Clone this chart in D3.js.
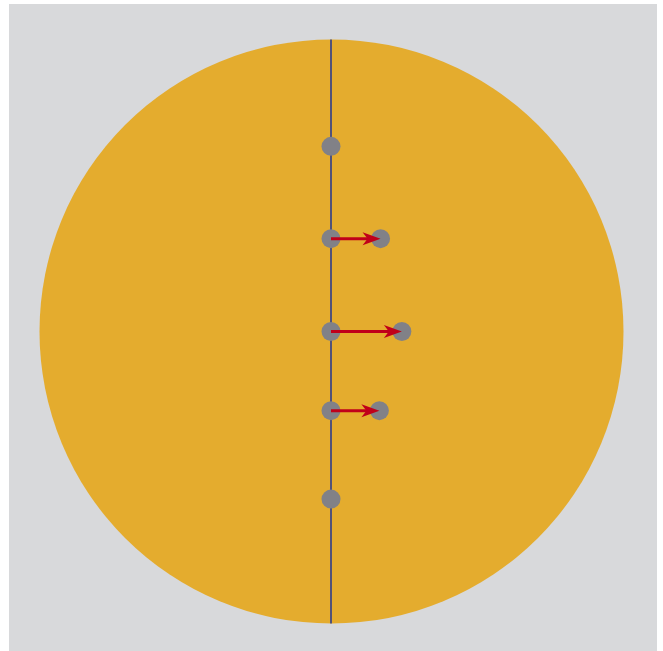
<!DOCTYPE html>
<html><head><meta charset="utf-8">
<script src="https://cdn.jsdelivr.net/npm/d3@7"></script>
<style>html,body{margin:0;padding:0;background:#fff;}svg{display:block;}</style>
</head><body>
<svg id="c" width="663" height="651"></svg>
<script>
// Points on the vertical diameter (unit disk coordinates)
const pointY = [0.634, 0.318, 0.0, -0.271, -0.574];
// Horizontal displacement of each point (0 = no arrow)
const displacement = [0.0, 0.168, 0.241, 0.164, 0.0];

const svg = d3.select("#c");
const cx = 331.5, cy = 331.5, R = 292;
const x = d3.scaleLinear().domain([-1, 1]).range([cx - R, cx + R]);
const y = d3.scaleLinear().domain([-1, 1]).range([cy + R, cy - R]);

svg.append("rect").attr("x", 9).attr("y", 4).attr("width", 648).attr("height", 647).attr("fill", "#d8d9db");

svg.append("circle").attr("cx", x(0)).attr("cy", y(0)).attr("r", x(1) - x(0)).attr("fill", "#e4ac2e");

svg.append("line").attr("x1", x(0) - 0.5).attr("x2", x(0) - 0.5).attr("y1", y(1)).attr("y2", y(-1))
  .attr("stroke", "#2c3c8c").attr("stroke-width", 1.6);

const data = pointY.map((v, i) => ({y: v, d: displacement[i]}));

svg.selectAll("circle.p0").data(data).join("circle").attr("class", "p0")
  .attr("cx", x(0) - 0.5).attr("cy", d => y(d.y)).attr("r", 9.5).attr("fill", "#818187");

const moved = data.filter(d => d.d > 0);
svg.selectAll("circle.p1").data(moved).join("circle").attr("class", "p1")
  .attr("cx", d => x(d.d)).attr("cy", d => y(d.y)).attr("r", 9.5).attr("fill", "#818187");

const headL = 18, headW = 6.5, notch = 5;
const g = svg.append("g").attr("fill", "#c0001a").attr("stroke", "none");
moved.forEach(d => {
  const x0 = x(0) - 0.5, x1 = x(d.d), yy = y(d.y);
  g.append("line").attr("x1", x0).attr("x2", x1 - headL + notch + 1).attr("y1", yy).attr("y2", yy)
    .attr("stroke", "#c0001a").attr("stroke-width", 3);
  g.append("path").attr("d",
    `M${x1},${yy} L${x1 - headL},${yy - headW} L${x1 - headL + notch},${yy} L${x1 - headL},${yy + headW} Z`);
});
</script>
</body></html>
